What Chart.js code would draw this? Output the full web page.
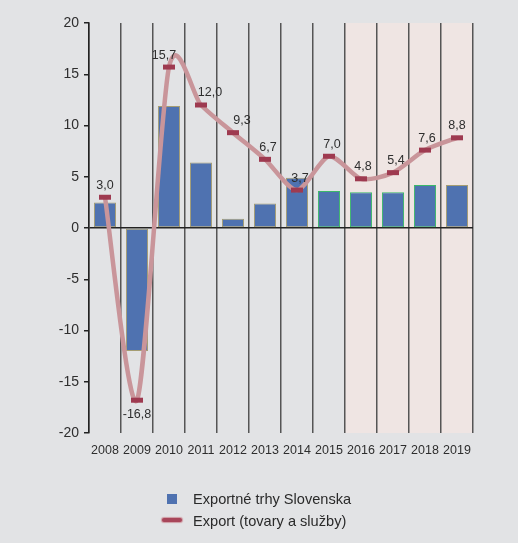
<!DOCTYPE html>
<html>
<head>
<meta charset="utf-8">
<script src="https://cdn.jsdelivr.net/npm/chart.js@4"></script>
<style>
  html, body { margin: 0; padding: 0; background: #e2e3e5; }
  #wrap { position: relative; width: 518px; height: 543px; }
  #chart { position: absolute; left: 0; top: 0; }
  .legend { position: absolute; left: 0; top: 0; font-family: 'Liberation Sans', Arial, sans-serif; font-size: 14.6px; color: #2a2a2a; }
  .legend .item { position: absolute; white-space: nowrap; line-height: 16px; }
  .box { position: absolute; width: 10px; height: 10px; background: #4f72b0; }
  .dash { position: absolute; width: 20px; height: 4px; border-radius: 2px; background: #a8465a; box-shadow: 0 0 1px 1px #cf9aa2; }
</style>
</head>
<body>
<div id="wrap">
  <canvas id="chart" width="518" height="543"></canvas>
  <div class="legend">
    <span class="box" style="left:167px; top:494px;"></span>
    <span class="item" style="left:193px; top:491px;">Exportné trhy Slovenska</span>
    <span class="dash" style="left:162px; top:518px;"></span>
    <span class="item" style="left:193px; top:513px;">Export (tovary a služby)</span>
  </div>
</div>
<script>
  // data
  const years = ['2008', '2009', '2010', '2011', '2012', '2013', '2014', '2015', '2016', '2017', '2018', '2019'];
  const marketGrowth = [2.5, -12.0, 11.9, 6.4, 0.9, 2.4, 4.9, 3.6, 3.5, 3.5, 4.2, 4.2];
  const exportGrowth = [3.0, -16.8, 15.7, 12.0, 9.3, 6.7, 3.7, 7.0, 4.8, 5.4, 7.6, 8.8];
  const forecastFrom = '2016';
  const yMin = -20, yMax = 20, yStep = 5;

  // narrow font if it is there, otherwise a smaller regular one
  const probe = document.createElement('canvas').getContext('2d');
  probe.font = '15px "Liberation Sans Narrow", monospace';
  const hasNarrow = probe.measureText('2008').width < 30;
  const narrowFamily = hasNarrow ? '"Liberation Sans Narrow"' : '"Liberation Sans", Arial, sans-serif';
  const xSize = hasNarrow ? 15 : 12.5;
  const lblSize = hasNarrow ? 14 : 12.5;

  // pinkish background behind forecast years
  const forecastShade = {
    id: 'forecastShade',
    beforeDraw(chart) {
      const { ctx, chartArea, scales } = chart;
      const i = years.indexOf(forecastFrom);
      const left = (scales.x.getPixelForValue(i - 1) + scales.x.getPixelForValue(i)) / 2;
      ctx.save();
      ctx.fillStyle = '#efe5e3';
      ctx.fillRect(left, chartArea.top, chartArea.right - left, chartArea.bottom - chartArea.top);
      ctx.restore();
    }
  };

  // office-style smoothing (uniform catmull-rom) instead of the distance weighted one
  const evenSpline = {
    id: 'evenSpline',
    afterDatasetsUpdate(chart) {
      const meta = chart.getDatasetMeta(1);
      const pts = meta.data;
      const f = 0.13;
      pts.forEach((pt, i) => {
        const prev = pts[i - 1] || pt;
        const next = pts[i + 1] || pt;
        const dx = (next.x - prev.x) * f, dy = (next.y - prev.y) * f;
        pt.cp1x = pt.x - dx; pt.cp1y = pt.y - dy;
        pt.cp2x = pt.x + dx; pt.cp2y = pt.y + dy;
      });
      meta.dataset._pointsUpdated = true;
    }
  };

  // value labels over the export line
  const valueLabels = {
    id: 'valueLabels',
    afterDatasetsDraw(chart) {
      const { ctx } = chart;
      const meta = chart.getDatasetMeta(1);
      const nudge = { 2: -5, 3: 9, 4: 9, 5: 3, 6: 3, 7: 3, 8: 2, 9: 3, 10: 2 };
      ctx.save();
      ctx.font = lblSize + 'px ' + narrowFamily;
      ctx.fillStyle = '#2e2e2e';
      ctx.textAlign = 'center';
      ctx.textBaseline = 'middle';
      meta.data.forEach((pt, i) => {
        const v = exportGrowth[i];
        const txt = v.toFixed(1).replace('.', ',');
        const dy = v < 0 ? 14 : -12;
        ctx.fillText(txt, pt.x + (nudge[i] || 0), pt.y + dy);
      });
      ctx.restore();
    }
  };

  new Chart(document.getElementById('chart'), {
    type: 'bar',
    data: {
      labels: years,
      datasets: [
        {
          label: 'Exportné trhy Slovenska',
          data: marketGrowth,
          backgroundColor: '#4f72b0',
          borderColor: ctx => (ctx.dataIndex >= 7 && ctx.dataIndex <= 10) ? '#3cb86a' : '#a59d72',
          borderWidth: 1,
          borderSkipped: false,
          categoryPercentage: 1,
          barPercentage: 0.69,
          order: 1
        },
        {
          type: 'line',
          label: 'Export (tovary a služby)',
          data: exportGrowth,
          borderColor: '#c9959a',
          borderWidth: 4.5,
          tension: 0.4,
          pointStyle: 'line',
          pointRadius: 6,
          pointBorderWidth: 5,
          pointBorderColor: '#9e3a50',
          pointBackgroundColor: '#9e3a50',
          clip: false,
          order: 0
        }
      ]
    },
    options: {
      responsive: false,
      animation: false,
      events: [],
      layout: { padding: { top: 23, right: 45, bottom: 80, left: 0 } },
      scales: {
        x: {
          grid: { color: '#555', lineWidth: 1.5, drawTicks: false, offset: true },
          border: { display: false },
          ticks: {
            color: '#2e2e2e',
            padding: 10,
            maxRotation: 0,
            autoSkip: false,
            font: { family: narrowFamily, size: xSize }
          },
          afterFit: s => { s.height = 30; }
        },
        y: {
          min: yMin,
          max: yMax,
          grid: {
            color: ctx => (ctx.tick && ctx.tick.value === 0) ? '#222' : 'transparent',
            lineWidth: 1.5,
            tickColor: '#222',
            tickLength: 5
          },
          border: { color: '#222', width: 1.5 },
          ticks: {
            stepSize: yStep,
            color: '#2e2e2e',
            padding: 5,
            font: { family: '"Liberation Sans", Arial, sans-serif', size: 14 }
          },
          afterFit: s => { s.width = 89; }
        }
      },
      plugins: {
        legend: { display: false },
        tooltip: { enabled: false }
      }
    },
    plugins: [forecastShade, evenSpline, valueLabels]
  });
</script>
</body>
</html>
